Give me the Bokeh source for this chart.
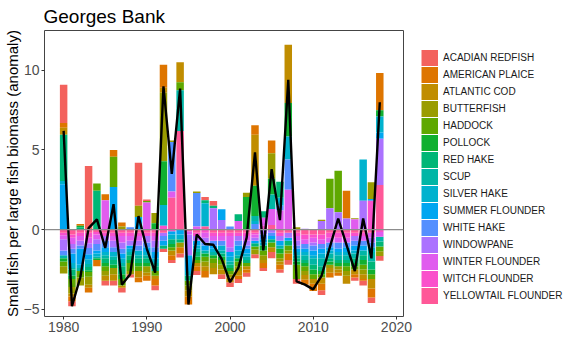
from bokeh.plotting import figure
from bokeh.models import Range1d, Legend, LegendItem, Span, FixedTicker, ColumnDataSource
from bokeh.embed import file_html
from bokeh.resources import INLINE

years = list(range(1980, 2019))

species = ["ACADIAN REDFISH", "AMERICAN PLAICE", "ATLANTIC COD", "BUTTERFISH", "HADDOCK",
           "POLLOCK", "RED HAKE", "SCUP", "SILVER HAKE", "SUMMER FLOUNDER", "WHITE HAKE",
           "WINDOWPANE", "WINTER FLOUNDER", "WITCH FLOUNDER", "YELLOWTAIL FLOUNDER"]

colors = ["#F3625D", "#DE7500", "#C08D00", "#9A9C00", "#5FA800", "#10B030", "#00B676",
          "#00B6A6", "#00B2CE", "#00A6F0", "#548FFF", "#AB72FF", "#E05CEE", "#FA50CB", "#FF5898"]

acadian_redfish = [2.4, -0.3, 0, 4.0, 0, -0.3, -0.3, -0.3, -0.2, 2.7, 0.1, -0.3, -0.2, -0.2, -0.25,
                   0, -0.25, 0.2, 0.3, -0.3, -0.3, -0.25, -0.25, -0.25, -0.2, -0.4, -0.2, -0.3, -0.3,
                   0, 0, -0.3, 0, 0, 0, -0.2, -0.3, -0.35, -0.3]
american_plaice = [0.3, -0.3, 0.1, -0.3, -0.4, 0.38, 0.42, 0.25, 0, -0.3, -0.3, -0.4, 1.45, -0.3, -0.4,
                   -0.5, -0.3, -0.4, 0, 0, 0, -0.2, -0.2, 0.6, -0.3, 0.8, -0.3, -0.4, 0,
                   -0.3, -0.45, -0.4, -0.3, -0.2, 1.75, -0.2, -0.1, -0.55, 2.33]
atlantic_cod = [0.45, -0.2, 0, -0.2, 0, -0.3, -0.4, -0.15, 0, -0.4, -0.2, -0.2, 0.3, -0.3, 1.25,
                -0.4, -0.2, -0.3, -0.4, -0.3, -0.3, -0.3, -0.2, 3.2, -0.2, -0.3, -0.2, 3.65, 0,
                -0.3, -0.3, -0.4, -0.3, -0.2, -0.5, -0.3, -0.3, -0.6, 0]
butterfish = [-0.45, -0.4, -0.5, -0.5, 0, -0.3, -0.4, 0.2, -0.2, 0.7, -0.4, 0.65, 4.3, 0.1, -0.3,
              -0.3, 0.1, -0.3, -0.3, -0.3, -0.2, -0.3, 0.27, -0.3, -0.3, 1.6, -0.2, -0.2, 0.15,
              -0.25, 0, 0.08, -0.2, -0.2, -0.3, 0.07, -0.3, 1.05, -0.3]
haddock = [-0.3, -0.5, -0.4, -0.3, 0.45, -0.3, 1.9, -0.4, -0.5, -0.3, 0.1, -0.3, 0, -0.2, 0.5,
           -0.3, -0.2, -0.3, -0.3, -0.3, -0.2, -0.3, -0.2, -0.2, -0.3, -0.3, -0.3, -0.3, -0.9,
           -0.3, -0.3, -0.2, 1.85, 2.6, -0.3, -0.2, -0.3, -0.3, -0.3]
pollock = [-0.2, -0.2, 0.1, -0.1, -0.1, -0.2, -0.2, -0.3, -0.2, -0.2, -0.2, 0.4, 2.75, -0.2, 0,
           0, -0.2, -0.2, -0.2, -0.2, -0.2, -0.2, 2.05, 1.9, -0.3, 1.0, -0.3, 2.1, -0.2,
           -0.2, -0.3, -0.2, -0.2, -0.2, -0.2, -0.2, -0.3, -0.3, 0.4]
red_hake = [2.9, -0.4, 0.15, -0.2, 2.45, -0.3, -0.3, -0.5, -0.3, -0.3, -0.3, -0.3, -0.2, -0.3, -0.2,
            -0.3, -0.3, 0.2, 0.15, -0.2, -0.2, 0.42, -0.2, -0.2, 0.4, -0.2, 1.0, -0.3, -0.2,
            -0.2, -0.3, -0.3, -0.2, -0.2, -0.2, -0.3, -0.3, -0.5, -0.3]
scup = [-0.2, -0.1, -0.2, -0.2, -0.1, -0.2, -0.2, -0.2, -0.2, -0.2, -0.2, -0.2, 0, 0, 2.55,
        0, -0.2, -0.2, -0.2, -0.2, -0.2, -0.2, -0.2, 0.3, 0, 0.9, -0.2, 0, -0.2,
        -0.3, -0.4, -0.5, -0.3, -0.3, -0.3, -0.3, -0.3, -0.6, -0.3]
silver_hake = [0.2, -0.3, -0.2, -0.3, -0.2, -0.2, -0.3, -0.3, -0.2, -0.3, -0.2, -0.3, 1.3, -0.3, -0.3,
               -0.3, -0.2, 1.45, -0.2, -0.3, -0.3, -0.3, -0.2, 0.2, -0.2, 0, 0.5, 1.45, -0.2,
               -0.2, -0.2, -0.3, -0.2, -0.2, -0.2, -0.2, 2.58, -0.3, 1.0]
summer_flounder = [2.85, -0.6, -1.0, -0.3, -0.2, -0.3, 2.68, -0.3, -0.2, 0.8, -0.3, -0.4, -0.3, -0.2, -0.3,
                   -1.0, -0.3, -0.3, -0.2, 0.68, -0.3, -0.3, -0.3, -0.15, -0.2, -0.2, -0.3, -0.2, -0.2,
                   -0.2, -0.3, -0.3, -0.2, -0.2, -0.3, -0.3, -0.3, 0.1, 0.4]
white_hake = [-0.3, -0.3, -0.2, -0.4, -0.4, -0.4, -0.3, -0.3, 0.15, -0.3, -0.3, -0.3, -0.3, 3.1, 0,
              0, 2.1, -0.2, -0.3, -0.3, 0.2, -0.3, -0.2, 0.35, -0.3, -0.2, 0.3, 1.9, -0.2,
              -0.3, -0.3, -0.3, -0.3, -0.4, -0.3, -0.3, -0.3, -0.3, 0]
windowpane = [-0.7, -0.3, -0.3, -0.3, -0.3, -0.3, -0.4, -0.4, -0.3, -0.3, -0.4, -0.4, -0.2, 0, 0,
              -1.3, -0.3, -0.3, 1.35, 0.6, -0.3, -0.3, -0.3, -0.2, -0.3, -0.2, -0.3, -0.3, -0.3,
              0.05, -0.2, 0.55, 1.35, 1.1, 0.7, -0.3, 1.82, -0.3, 2.9]
winter_flounder = [-0.25, -0.4, -0.3, -0.35, -0.3, 1.84, -0.3, -0.4, -0.3, -0.3, 1.7, -0.3, 0, 0.4, 0,
                   -0.2, 0.2, -0.3, -0.3, -0.3, -0.7, 0.55, -0.3, -0.2, 0.5, 1.0, 1.2, 2.5, -0.3,
                   -0.3, -0.3, -0.3, -0.3, -0.3, -0.3, 0.65, -0.3, -0.3, -0.3]
witch_flounder = [-0.15, -0.2, -0.2, -0.3, -0.15, -0.2, -0.2, -0.2, -0.2, -0.2, -0.2, -0.2, 0.25, -0.1, 0,
                  0, -0.2, -0.2, -0.2, -0.2, -0.2, -0.2, -0.2, -0.1, 0.25, 0, -0.2, 0, -0.2,
                  -0.3, -0.2, -0.3, -0.3, -0.3, -0.3, -0.2, -0.2, 1.82, -0.15]
yellowtail_flounder = [-0.2, -0.3, -0.2, -0.2, -0.15, -0.2, -0.2, -0.2, -0.2, -0.2, -0.2, -0.2, -0.2, 2.0, 6.2,
                       -0.1, -0.2, 0.2, -0.2, -0.2, -0.2, -0.2, -0.2, -0.2, 0, 0.3, -0.2, -0.2, -0.2,
                       -0.3, -0.3, -0.3, -0.2, -0.2, -0.2, -0.2, -0.2, -0.2, 2.8]

total_anomaly = [6.2, -4.8, -3.0, 0.1, 0.65, -1.15, 1.6, -3.45, -2.8, 0.85, -1.2, -2.7, 9.0, 3.5, 8.85,
                 -4.7, -0.3, -0.9, -0.95, -1.85, -3.3, -2.4, -0.5, 4.85, -1.3, 3.8, 0.6, 9.4, -3.25,
                 -3.45, -3.75, -2.9, -1.1, 0.7, -0.95, -2.6, 0.7, -1.8, 8.0]

x_ticks = [1980, 1990, 2000, 2010, 2020]
y_ticks = [-5, 0, 5, 10]

series = [acadian_redfish, american_plaice, atlantic_cod, butterfish, haddock, pollock, red_hake,
          scup, silver_hake, summer_flounder, white_hake, windowpane, winter_flounder,
          witch_flounder, yellowtail_flounder]

FONT = "Liberation Sans"
NAN = float("nan")

p = figure(frame_width=359, frame_height=286, min_border_left=35, min_border_right=4,
           min_border_top=0, min_border_bottom=0,
           x_range=Range1d(1977.7, 2020.85), y_range=Range1d(-5.45, 12.5),
           output_backend="svg", toolbar_location=None, title="Georges Bank")

p.title.text_font = FONT
p.title.text_font_size = "19px"
p.title.text_font_style = "normal"
p.title.text_color = "#000000"
p.title.standoff = 7
p.title.offset = -1

p.background_fill_color = "white"
p.border_fill_color = "white"
p.outline_line_color = "#444444"
p.outline_line_width = 1
p.grid.visible = False

# stacking like ggplot: first level farthest from zero
pos_base = [0.0] * len(years)
neg_base = [0.0] * len(years)
stacks = {}
for name, vals in reversed(list(zip(species, series))):
    tops, bottoms = [], []
    for i, v in enumerate(vals):
        if v >= 0:
            bottoms.append(pos_base[i]); tops.append(pos_base[i] + v); pos_base[i] += v
        else:
            tops.append(neg_base[i]); bottoms.append(neg_base[i] + v); neg_base[i] += v
    stacks[name] = (tops, bottoms)

items = []
for name, col in zip(species, colors):
    tops, bottoms = stacks[name]
    src = ColumnDataSource(dict(x=years, top=tops, bottom=bottoms))
    p.vbar(x="x", top="top", bottom="bottom", width=0.9, source=src,
           fill_color=col, line_color=None)
    # legend key proxy (draws nothing in the plot): a thick line swatch filling the key box
    key = p.line(x=[NAN], y=[NAN], line_color=col, line_width=16, line_cap="butt")
    items.append(LegendItem(label=name, renderers=[key]))

zero = Span(location=0, dimension="width", line_color="#8C8C8C", line_width=1.3)
p.add_layout(zero)

p.line(years, total_anomaly, line_color="black", line_width=2.4)

for ax in (p.xaxis[0], p.yaxis[0]):
    ax.axis_line_color = None
    ax.major_tick_line_color = "#333333"
    ax.major_tick_out = 3
    ax.major_tick_in = 0
    ax.minor_tick_line_color = None
    ax.major_label_text_font = FONT
    ax.major_label_text_font_size = "14px"
    ax.major_label_text_color = "#4D4D4D"
    ax.major_label_standoff = 2

p.xaxis[0].ticker = FixedTicker(ticks=x_ticks)
p.yaxis[0].ticker = FixedTicker(ticks=y_ticks)
p.yaxis[0].axis_label = "Small fish per large fish biomass (anomaly)"
p.yaxis[0].axis_label_text_font = FONT
p.yaxis[0].axis_label_text_font_size = "15px"
p.yaxis[0].axis_label_text_font_style = "normal"
p.yaxis[0].axis_label_text_color = "#000000"
p.yaxis[0].axis_label_standoff = 0

legend = Legend(items=items, location=(18, 12), orientation="vertical",
                glyph_width=17, glyph_height=17, label_height=17, spacing=0,
                label_standoff=5, padding=0, margin=0, border_line_color=None,
                background_fill_color="white",
                label_text_font=FONT, label_text_font_size="10px", label_text_color="#1A1A1A")
p.add_layout(legend, "right")

html = file_html(p, INLINE)
open("out.html", "w").write(html)
